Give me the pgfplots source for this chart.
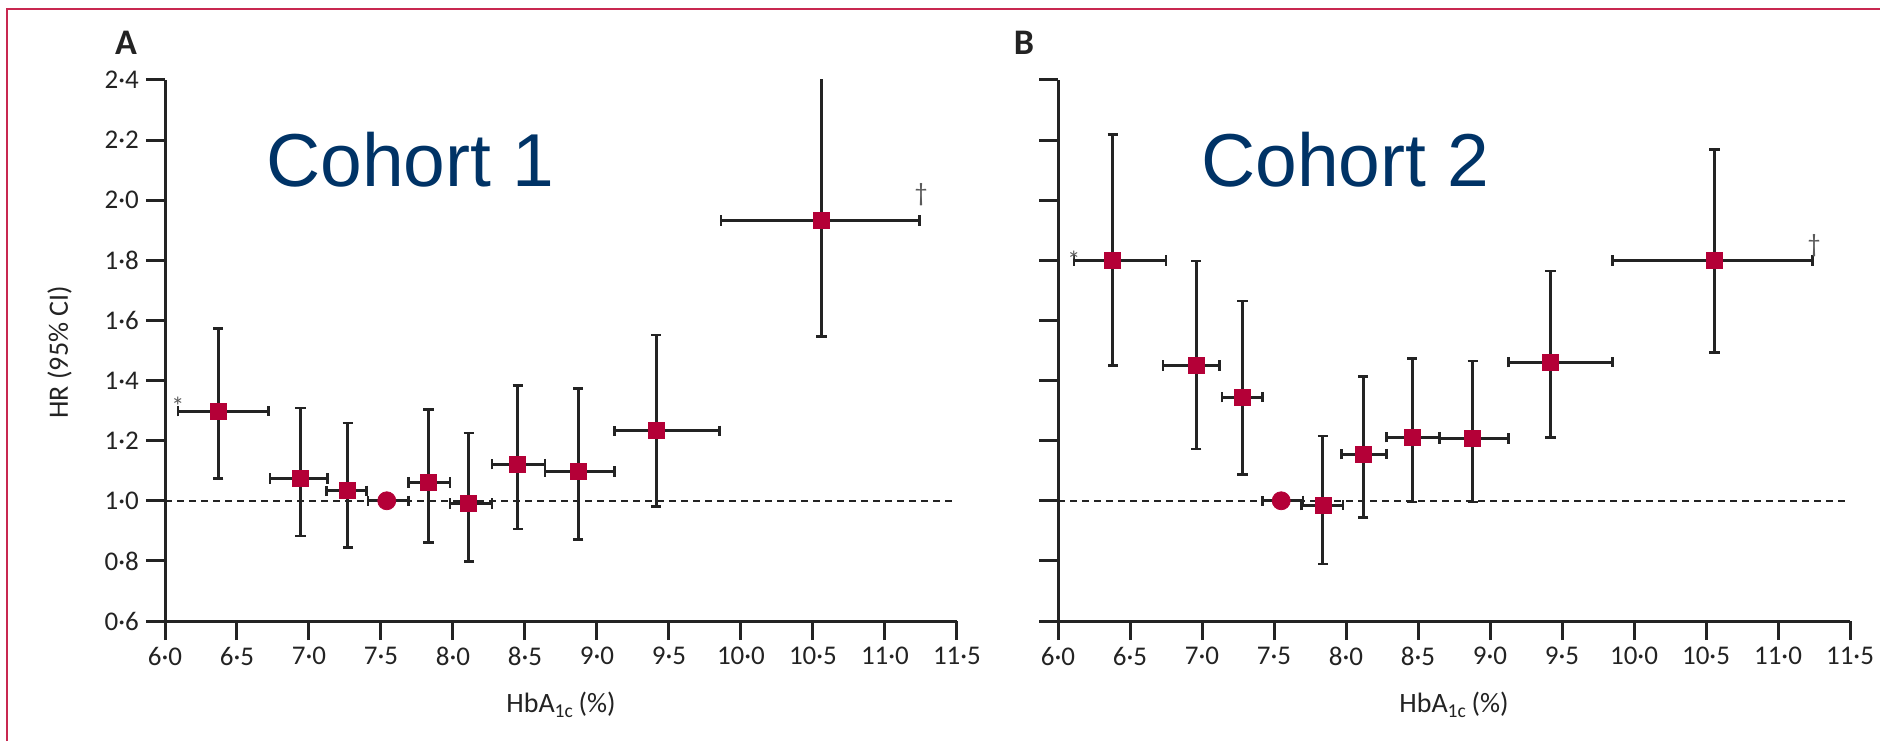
\documentclass[border=0pt]{standalone}
\usepackage{fontspec}
\setmainfont{Carlito}
\newfontfamily\arialfont{Liberation Sans}
\usepackage{pgfplots}
\pgfplotsset{compat=1.18}
\usepackage{pgfplotstable}

\definecolor{crimson}{RGB}{180,0,55}
\definecolor{navy}{RGB}{0,51,102}
\definecolor{framecol}{RGB}{200,40,80}
\definecolor{ink}{RGB}{35,35,35}

% x = HbA1c group midpoint, y = HR; xlo/xhi = HbA1c band; ylo/yhi = 95% CI
\pgfplotstableread{
x     y      xlo   xhi    ylo    yhi
6.37  1.298  6.09  6.72   1.074  1.574
6.94  1.074  6.73  7.13   0.883  1.309
7.27  1.033  7.12  7.40   0.844  1.259
7.83  1.061  7.69  7.98   0.862  1.304
8.11  0.991  7.98  8.27   0.797  1.226
8.45  1.122  8.27  8.64   0.906  1.384
8.87  1.098  8.64  9.12   0.872  1.374
9.41  1.233  9.12  9.85   0.981  1.552
10.56 1.932  9.86  11.24  1.546  2.411
}\cohortA
\pgfplotstableread{
x     y      xlo   xhi
7.54  1.0    7.41  7.69
}\refA

\pgfplotstableread{
x     y      xlo   xhi    ylo    yhi
6.38  1.800  6.11  6.75   1.450  2.219
6.96  1.450  6.73  7.12   1.172  1.798
7.28  1.345  7.14  7.42   1.088  1.665
7.84  0.985  7.69  7.98   0.790  1.215
8.12  1.155  7.97  8.28   0.945  1.413
8.46  1.212  8.28  8.65   0.996  1.474
8.88  1.207  8.65  9.13   0.996  1.465
9.42  1.461  9.13  9.85   1.210  1.764
10.56 1.800  9.85  11.24  1.494  2.168
}\cohortB
\pgfplotstableread{
x     y      xlo   xhi
7.55  1.0    7.42  7.70
}\refB

\pgfplotsset{
  hrpanel/.style={
    scale only axis, width=396pt, height=270.5pt,
    xmin=6, xmax=11.5, ymin=0.6, ymax=2.4,
    axis lines=left,
    axis line style={-, line width=1.5pt, draw=ink},
    tick align=outside, major tick length=9.5pt,
    tick style={line width=1.5pt, draw=ink},
    xtick={6,6.5,7,7.5,8,8.5,9,9.5,10,10.5,11,11.5},
    xticklabels={6·0,6·5,7·0,7·5,8·0,8·5,9·0,9·5,10·0,10·5,11·0,11·5},
    ytick={0.6,0.8,1.0,1.2,1.4,1.6,1.8,2.0,2.2,2.4},
    ticklabel style={font=\fontsize{13.5}{14}\selectfont, text=ink},
    xlabel={HbA\textsubscript{1c}\,(\%)},
    xlabel style={at={(axis description cs:0.5,-0.155)}, anchor=center,
      font=\fontsize{14}{15}\selectfont, text=ink},
    ylabel style={at={(axis description cs:-0.133,0.497)}, anchor=center,
      font=\fontsize{14}{15}\selectfont, text=ink},
  },
  ciplot/.style={only marks, mark=square*, mark size=4pt,
    mark options={draw=crimson, fill=crimson},
    error bars/.cd, x dir=both, x explicit, y dir=both, y explicit,
    error bar style={line width=1.5pt, draw=ink},
    error mark options={rotate=90, line width=1.3pt, mark size=2.6pt, draw=ink}},
  refplot/.style={only marks, mark=*, mark size=4.5pt,
    mark options={draw=crimson, fill=crimson},
    error bars/.cd, x dir=both, x explicit,
    error bar style={line width=1.5pt, draw=ink},
    error mark options={rotate=90, line width=1.3pt, mark size=2.6pt, draw=ink}},
  refline/.style={ink, line width=1.2pt, dash pattern=on 3.5pt off 2.5pt},
}
\tikzset{note/.style={font=\fontsize{13}{13}\selectfont, text=ink!75}}

\begin{document}
\begin{tikzpicture}
\useasboundingbox (0,0) rectangle (940pt,370.5pt);
\draw[framecol, line width=1pt] (3.5pt,0) -- (3.5pt,366pt) -- (940pt,366pt);

% panel A
\begin{axis}[hrpanel, at={(82.5pt,60pt)}, anchor=south west,
  yticklabels={0·6,0·8,1·0,1·2,1·4,1·6,1·8,2·0,2·2,2·4},
  ylabel={HR (95\% CI)}]
\addplot[refline] coordinates {(6,1) (11.5,1)};
\addplot[refplot] table[x=x, y=y,
  x error plus expr=\thisrow{xhi}-\thisrow{x},
  x error minus expr=\thisrow{x}-\thisrow{xlo}] {\refA};
\addplot[ciplot] table[x=x, y=y,
  x error plus expr=\thisrow{xhi}-\thisrow{x},
  x error minus expr=\thisrow{x}-\thisrow{xlo},
  y error plus expr=\thisrow{yhi}-\thisrow{y},
  y error minus expr=\thisrow{y}-\thisrow{ylo}] {\cohortA};
\node[note] at (axis cs:6.09,1.315) {*};
\node[note] at (axis cs:11.25,2.02) {†};
\end{axis}

% panel B
\begin{axis}[hrpanel, at={(529pt,60pt)}, anchor=south west, yticklabels={}]
\addplot[refline] coordinates {(6,1) (11.48,1)};
\addplot[refplot] table[x=x, y=y,
  x error plus expr=\thisrow{xhi}-\thisrow{x},
  x error minus expr=\thisrow{x}-\thisrow{xlo}] {\refB};
\addplot[ciplot] table[x=x, y=y,
  x error plus expr=\thisrow{xhi}-\thisrow{x},
  x error minus expr=\thisrow{x}-\thisrow{xlo},
  y error plus expr=\thisrow{yhi}-\thisrow{y},
  y error minus expr=\thisrow{y}-\thisrow{ylo}] {\cohortB};
\node[note] at (axis cs:6.11,1.80) {*};
\node[note] at (axis cs:11.25,1.85) {†};
\end{axis}

\node[font=\bfseries\fontsize{18}{18}\selectfont, text=ink] at (63pt,349pt) {A};
\node[font=\bfseries\fontsize{18}{18}\selectfont, text=ink] at (512pt,349pt) {B};
\node[font=\arialfont\fontsize{37.5}{38}\selectfont, text=navy, anchor=west, inner sep=0pt] at (133pt,290.5pt) {Cohort 1};
\node[font=\arialfont\fontsize{37.5}{38}\selectfont, text=navy, anchor=west, inner sep=0pt] at (600.5pt,290.5pt) {Cohort 2};
\end{tikzpicture}
\end{document}
